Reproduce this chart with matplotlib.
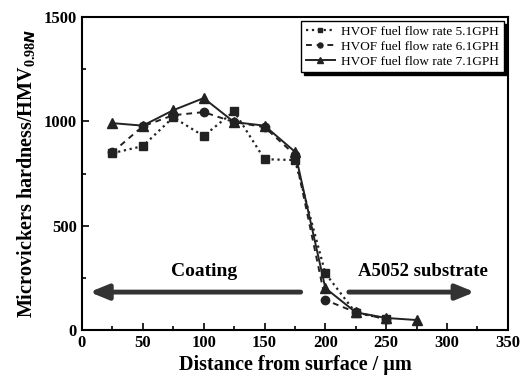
import matplotlib
matplotlib.use("Agg")
import matplotlib.pyplot as plt
from matplotlib.ticker import MultipleLocator

plt.rcParams['font.family'] = ['Liberation Serif', 'DejaVu Serif']
plt.rcParams['font.weight'] = 'bold'
plt.rcParams['mathtext.fontset'] = 'custom'
plt.rcParams['mathtext.rm'] = 'Liberation Serif:bold'
plt.rcParams['mathtext.bf'] = 'Liberation Serif:bold'

# distance from surface (um)
dist_51 = [25, 50, 75, 100, 125, 150, 175, 200, 225, 250]
hv_51 = [848, 882, 1020, 930, 1049, 819, 815, 272, 82, 55]

dist_61 = [25, 50, 75, 100, 125, 150, 175, 200, 225, 250]
hv_61 = [852, 977, 1030, 1045, 997, 973, 840, 144, 85, 52]

dist_71 = [25, 50, 75, 100, 125, 150, 175, 200, 225, 250, 275]
hv_71 = [992, 980, 1054, 1112, 997, 980, 855, 201, 85, 58, 48]

labels = ['HVOF fuel flow rate 5.1GPH',
          'HVOF fuel flow rate 6.1GPH',
          'HVOF fuel flow rate 7.1GPH']

fig = plt.figure(figsize=(5.22, 3.82), dpi=100)
ax = fig.add_axes([0.157, 0.136, 0.816, 0.819])

ax.plot(dist_51, hv_51, ':', color='#222222', marker='s', ms=6, lw=1.6, label=labels[0])
ax.plot(dist_61, hv_61, '--', color='#222222', marker='o', ms=6, lw=1.4, dashes=(3, 2.5), label=labels[1])
ax.plot(dist_71, hv_71, '-', color='#222222', marker='^', ms=7, lw=1.4, label=labels[2])

ax.set_xlim(0, 350)
ax.set_ylim(0, 1500)
ax.xaxis.set_major_locator(MultipleLocator(50))
ax.xaxis.set_minor_locator(MultipleLocator(25))
ax.yaxis.set_major_locator(MultipleLocator(500))
ax.yaxis.set_minor_locator(MultipleLocator(250))
ax.tick_params(which='both', direction='in', labelsize=12, width=1.2)
ax.tick_params(which='major', length=5)
ax.tick_params(which='minor', length=3)
for s in ax.spines.values():
    s.set_linewidth(1.5)

ax.set_xlabel('Distance from surface / µm', fontsize=14.5, fontweight='bold', labelpad=3)
ax.set_ylabel('Microvickers hardness/HMV$_{0.98N}$', fontsize=14.5, fontweight='bold', labelpad=4)

# region arrows
ax.annotate('', xy=(4, 182), xytext=(182, 182),
            arrowprops=dict(arrowstyle='-|>,head_length=1.1,head_width=0.45', lw=3.5, color='#333333'))
ax.annotate('', xy=(325, 182), xytext=(217, 182),
            arrowprops=dict(arrowstyle='-|>,head_length=1.1,head_width=0.45', lw=3.5, color='#333333'))
ax.text(100, 280, 'Coating', ha='center', va='center', fontsize=14, fontweight='bold')
ax.text(280, 280, 'A5052 substrate', ha='center', va='center', fontsize=13.5, fontweight='bold')

leg = ax.legend(loc='upper right', fontsize=9.5, frameon=True, fancybox=False,
                shadow={'color': 'black', 'alpha': 1},
                handlelength=2.2, borderpad=0.35, labelspacing=0.2, handletextpad=0.5,
                borderaxespad=0.3, markerscale=0.6)
leg.get_frame().set_edgecolor('black')
leg.get_frame().set_linewidth(1.0)
for t in leg.get_texts():
    t.set_fontweight('normal')

fig.savefig('out.png', dpi=100)
